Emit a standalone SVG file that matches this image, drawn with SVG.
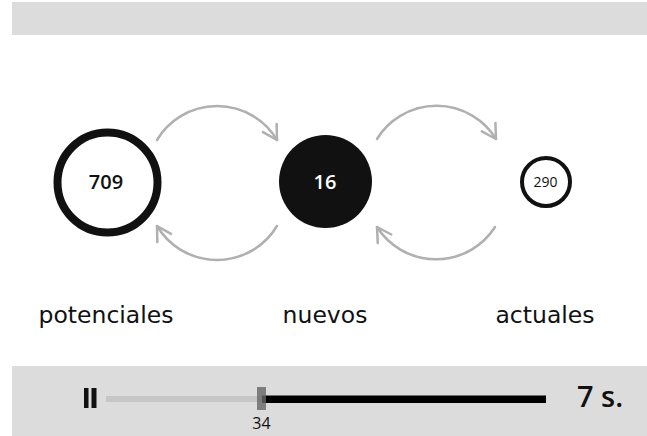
<svg xmlns="http://www.w3.org/2000/svg" width="647" height="436" viewBox="0 0 647 436">
<defs>
<style>
.bar{fill:#dcdcdc}
.arc{fill:none;stroke:#b0b0b0;stroke-width:2.5;stroke-linecap:round}
.lbl{font-family:"DejaVu Sans",sans-serif;font-size:23.5px;fill:#111;text-anchor:middle}
.num{font-family:"Open Sans",sans-serif;font-weight:600;fill:#111;text-anchor:middle}
</style>
<marker id="ah" markerUnits="userSpaceOnUse" markerWidth="30" markerHeight="30" refX="0" refY="0" viewBox="-20 -15 30 30" orient="auto">
<path d="M-14,-8 L0,0 L-14,8" fill="none" stroke="#b0b0b0" stroke-width="2.5" stroke-linecap="round" stroke-linejoin="round"/>
</marker>
</defs>
<rect class="bar" x="12" y="2" width="635" height="33"/>
<g id="connectors">
<path class="arc" d="M157,140 A70,70 0 0 1 277,140" marker-end="url(#ah)"/>
<path class="arc" d="M277,226 A70,70 0 0 1 157,226" marker-end="url(#ah)"/>
<path class="arc" d="M377,139 A70,70 0 0 1 496,139" marker-end="url(#ah)"/>
<path class="arc" d="M495,227 A70,70 0 0 1 377,227" marker-end="url(#ah)"/>
</g>
<g id="potenciales">
<circle cx="107.5" cy="182.5" r="50" fill="#fff" stroke="#111" stroke-width="8"/>
<text class="num" x="106" y="188.5" font-size="20">709</text>
<text class="lbl" x="106" y="323">potenciales</text>
</g>
<g id="nuevos">
<circle cx="325.5" cy="181.5" r="46.5" fill="#111"/>
<text class="num" x="325" y="188.5" font-size="20" style="fill:#fff">16</text>
<text class="lbl" x="325" y="323">nuevos</text>
</g>
<g id="actuales">
<circle cx="546" cy="182" r="24" fill="#fff" stroke="#111" stroke-width="4"/>
<text class="num" x="545.5" y="187" font-size="14" style="font-weight:400">290</text>
<text class="lbl" x="545" y="323">actuales</text>
</g>
<g id="player">
<rect class="bar" x="12" y="366" width="635" height="70"/>
<rect x="84" y="388" width="4.5" height="20" fill="#111"/>
<rect x="91.5" y="388" width="5" height="20" fill="#111"/>
<rect x="106" y="396" width="156" height="6" fill="#c6c6c6"/>
<rect x="262" y="395.5" width="284" height="7.5" fill="#000"/>
<rect x="257" y="387" width="9" height="23" fill="#666" fill-opacity="0.8"/>
<text class="num" x="261.5" y="429" font-size="16" style="font-weight:400">34</text>
<text class="num" x="600" y="407" font-size="29">7 s.</text>
</g>
</svg>
